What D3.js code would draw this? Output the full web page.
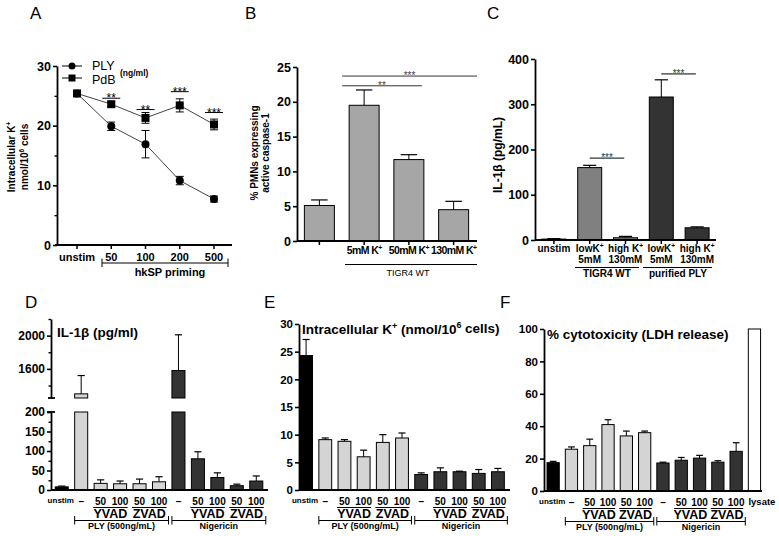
<!DOCTYPE html>
<html><head><meta charset="utf-8">
<script src="https://cdn.jsdelivr.net/npm/d3@7"></script>
<style>body{margin:0;background:#fff} text{font-family:Arial,"Liberation Sans",sans-serif}</style>
</head><body><svg id="c" width="779" height="536"></svg>
<script>
// ---------- DATA ----------
// Panel A
const doseLabels = ["unstim","50","100","200","500"];
const plyK = [25.4,19.9,16.9,10.8,7.7];
const plyKErr = [0,0.7,2.3,0.7,0.5];
const pdbK = [25.4,23.6,21.3,23.4,20.2];
const pdbKErr = [0,0.4,0.9,1.1,0.9];
const sigAAt = ["50","100","200","500"];
const sigALevel = [24.6,22.7,25.7,22.2];
const sigAStars = ["**","**","***","***"];
const yTicksA = [0,10,20,30];
// Panel B
const casp1Labels = ["","5mM K","50mM K","130mM K"];
const casp1 = [5.1,19.5,11.7,4.5];
const casp1Err = [0.8,2.2,0.7,1.2];
const yTicksB = [0,5,10,15,20,25];
const sigBFrom = [1,1], sigBTo = [4,2.9], sigBLevel = [23.7,22.3], sigBStars = ["***","**"];
// Panel C
const il1Top = ["unstim","lowK","high K","lowK","high K"];
const il1Bottom = ["","5mM","130mM","5mM","130mM"];
const il1 = [2,160,5,316,27];
const il1Err = [1,5,3,38,2];
const yTicksC = [0,100,200,300,400];
const sigCFrom = [1.0,3.0], sigCTo = [2.3,4.3], sigCLevel = [181,367];
// Panels D-F
const inhibLabels = ["unstim","–","50","100","50","100","–","50","100","50","100","lysate"];
const inhibGroups = ["YVAD","ZVAD","YVAD","ZVAD"];
const inhibGroupIdx = [[2,3],[4,5],[7,8],[9,10]];
const stimGroups = ["PLY (500ng/mL)","Nigericin"];
const stimGroupIdx = [[1,5],[6,10]];
const il1Inhib = [8,1300,17,16,16,21,1580,80,32,11,23];
const il1InhibErr = [2,220,9,7,12,13,430,18,12,4,13];
const kInhib = [24.3,9.1,8.8,6.0,8.6,9.4,2.8,3.3,3.3,3.0,3.3];
const kInhibErr = [2.9,0.3,0.3,1.2,1.4,0.9,0.3,0.7,0.1,0.7,0.6];
const ldh = [17.5,25.8,28,41,34,36,17.3,19,20.3,17.8,24.5,100];
const ldhErr = [0.8,1.4,4,3,3,1,0.5,1.7,1.7,0.9,5.3,0];
const yTicksDLow = [0,50,100,150,200], yTicksDHigh = [1600,2000];
const yTicksE = [0,5,10,15,20,25,30];
const yTicksF = [0,20,40,60,80,100];

// ---------- HELPERS ----------
const svg = d3.select("#c");
const inhibColor = i => i===0 ? "#000" : (i<=5 ? "#d4d4d4" : (i<=10 ? "#333" : "#fff"));

function txt(g,x,y,s,o={}){
  const t = g.append("text").attr("x",x).attr("y",y).text(s)
    .attr("font-size",o.size||11).attr("font-weight",o.weight||"bold")
    .attr("text-anchor",o.anchor||"middle").attr("fill",o.fill||"#000");
  if(o.ls) t.attr("letter-spacing",o.ls);
  return t;
}
function rich(g,x,y,parts,o={}){
  const t = g.append("text").attr("x",x).attr("y",y)
    .attr("font-size",o.size||11).attr("font-weight",o.weight||"bold")
    .attr("text-anchor",o.anchor||"middle").attr("fill",o.fill||"#000");
  if(o.ls) t.attr("letter-spacing",o.ls);
  if(o.rotate) t.attr("transform",`rotate(-90,${x},${y})`);
  const fs = o.size||11;
  parts.forEach(p=>{
    if(p[1]==="sup") t.append("tspan").attr("dy",-fs*0.38).attr("font-size",fs*0.65).text(p[0]);
    else t.append("tspan").attr("dy",p[2]||0).text(p[0]);
  });
  return t;
}
function yAxis(g,scale,x,ticks,fs,minor){
  const a = g.append("g").attr("transform",`translate(${x},0)`)
    .call(d3.axisLeft(scale).tickValues(ticks).tickSize(4).tickSizeOuter(0).tickPadding(2).tickFormat(d3.format("d")));
  a.selectAll("text").attr("font-size",fs).attr("font-weight","bold").attr("fill","#000");
  a.selectAll("line").attr("stroke","#000").attr("stroke-width",1.6);
  a.select(".domain").attr("stroke","#000").attr("stroke-width",1.8);
  if(minor){
    const m = g.append("g").attr("transform",`translate(${x},0)`)
      .call(d3.axisLeft(scale).tickValues(minor).tickSize(2.5).tickFormat(""));
    m.select(".domain").remove();
    m.selectAll("line").attr("stroke","#000").attr("stroke-width",1.4);
  }
  return a;
}
function xLine(g,x0,x1,y,centers){
  g.append("line").attr("x1",x0).attr("x2",x1).attr("y1",y).attr("y2",y).attr("stroke","#000").attr("stroke-width",1.8);
  centers.forEach(c=>g.append("line").attr("x1",c).attr("x2",c).attr("y1",y).attr("y2",y+4).attr("stroke","#000").attr("stroke-width",1.5));
}
function errUp(g,cx,yTop,yErr,cap){
  g.append("line").attr("x1",cx).attr("x2",cx).attr("y1",yTop).attr("y2",yErr).attr("stroke","#000").attr("stroke-width",1);
  g.append("line").attr("x1",cx-cap/2).attr("x2",cx+cap/2).attr("y1",yErr).attr("y2",yErr).attr("stroke","#000").attr("stroke-width",1.2);
}
function drawBars(g,x,y,vals,errs,colorFn){
  vals.forEach((v,i)=>{
    g.append("rect").attr("x",x(i)).attr("y",y(v)).attr("width",x.bandwidth()).attr("height",y(0)-y(v))
      .attr("fill",colorFn(i)).attr("stroke","#000").attr("stroke-width",1);
    if(errs[i]>0) errUp(g,x(i)+x.bandwidth()/2,y(v),y(v+errs[i]),x.bandwidth()*0.55);
  });
}
function bracket(g,x0,x1,y){
  g.append("line").attr("x1",x0).attr("x2",x1).attr("y1",y).attr("y2",y).attr("stroke","#000").attr("stroke-width",1);
  [x0,x1].forEach(xx=>g.append("line").attr("x1",xx).attr("x2",xx).attr("y1",y-4.5).attr("y2",y+4).attr("stroke","#000").attr("stroke-width",1));
}
function inhibXLabels(g,x,axisY,n){
  const bw = x.bandwidth(), c = i=>x(i)+bw/2;
  d3.range(n).forEach(i=>{
    const s = inhibLabels[i];
    if(i===0) txt(g,c(i)-1,axisY+12.5,s,{size:8});
    else if(s==="–") txt(g,c(i),axisY+14.5,s,{size:10});
    else if(s==="lysate") txt(g,c(i)-6,axisY+14,s,{size:9.5,anchor:"start"});
    else txt(g,c(i),axisY+15,s,{size:10});
  });
  inhibGroups.forEach((nm,k)=>{
    const [a,b] = inhibGroupIdx[k];
    const x0 = x(a)-1, x1 = x(b)+bw+1;
    g.append("line").attr("x1",x0).attr("x2",x1).attr("y1",axisY+17.5).attr("y2",axisY+17.5).attr("stroke","#000").attr("stroke-width",1);
    txt(g,(x0+x1)/2,axisY+27.5,nm,{size:12.5});
  });
  stimGroups.forEach((nm,k)=>{
    const [a,b] = stimGroupIdx[k];
    const x0 = x(a), x1 = x(b)+bw+3;
    bracket(g,x0,x1,axisY+30.5);
    txt(g,(x0+x1)/2,axisY+38.5,nm,{size:9});
  });
}
function panelLetter(x,y,s){ txt(svg,x,y,s,{size:17,weight:"normal",anchor:"start"}); }

// ---------- PANEL A ----------
{
  const g = svg.append("g");
  const x = d3.scalePoint().domain(doseLabels).range([77,214]);
  const y = d3.scaleLinear().domain([0,30]).range([245,66]);
  yAxis(g,y,57,yTicksA,12.5,[5,15,25]);
  xLine(g,55,232,245,doseLabels.map(d=>x(d)));
  doseLabels.forEach(d=>txt(g,x(d),261,d,{size:11}));
  bracket(g,102,228,263);
  txt(g,170,276,"hkSP priming",{size:11});
  const line = d3.line().x((d,i)=>x(doseLabels[i])).y(d=>y(d));
  g.append("path").attr("d",line(plyK)).attr("fill","none").attr("stroke","#444").attr("stroke-width",1);
  g.append("path").attr("d",line(pdbK)).attr("fill","none").attr("stroke","#444").attr("stroke-width",1);
  const eb = (vals,errs)=>vals.forEach((v,i)=>{ if(errs[i]>0){
    const cx = x(doseLabels[i]);
    g.append("line").attr("x1",cx).attr("x2",cx).attr("y1",y(v-errs[i])).attr("y2",y(v+errs[i])).attr("stroke","#000");
    [v-errs[i],v+errs[i]].forEach(e=>g.append("line").attr("x1",cx-4).attr("x2",cx+4).attr("y1",y(e)).attr("y2",y(e)).attr("stroke","#000"));
  }});
  eb(plyK,plyKErr); eb(pdbK,pdbKErr);
  plyK.forEach((v,i)=>g.append("circle").attr("cx",x(doseLabels[i])).attr("cy",y(v)).attr("r",4).attr("fill","#000"));
  pdbK.forEach((v,i)=>g.append("rect").attr("x",x(doseLabels[i])-4).attr("y",y(v)-4).attr("width",8).attr("height",8).attr("fill","#000"));
  sigAAt.forEach((d,k)=>{
    const cx = x(d), ly = y(sigALevel[k]);
    g.append("line").attr("x1",cx-9).attr("x2",cx+9).attr("y1",ly).attr("y2",ly).attr("stroke","#000").attr("stroke-width",1);
    txt(g,cx,ly+4,sigAStars[k],{size:12,weight:"normal"});
  });
  // legend
  g.append("line").attr("x1",62).attr("x2",82).attr("y1",66).attr("y2",66).attr("stroke","#000");
  g.append("circle").attr("cx",72).attr("cy",66).attr("r",3.5).attr("fill","#000");
  g.append("line").attr("x1",62).attr("x2",82).attr("y1",78).attr("y2",78).attr("stroke","#000");
  g.append("rect").attr("x",68.5).attr("y",74.5).attr("width",7).attr("height",7).attr("fill","#000");
  txt(g,92,69.5,"PLY",{size:12.5,weight:"normal",anchor:"start"});
  txt(g,120,76,"(ng/ml)",{size:8.5,anchor:"start"});
  txt(g,92,83.5,"PdB",{size:12.5,weight:"normal",anchor:"start"});
  rich(g,15,157,[["Intracellular K",""],["+","sup"]],{size:10,rotate:true});
  rich(g,28,157,[["nmol/10",""],["6","sup"],[" cells","",3.8]],{size:10,rotate:true});
}
// ---------- PANEL B ----------
{
  const g = svg.append("g");
  const x = d3.scaleBand().domain(d3.range(4)).range([297,476]).paddingInner(0.33).paddingOuter(0.165);
  const y = d3.scaleLinear().domain([0,25]).range([241,67]);
  drawBars(g,x,y,casp1,casp1Err,()=>"#a6a6a6");
  yAxis(g,y,297,yTicksB,12.5);
  xLine(g,297,477,241,d3.range(4).map(i=>x(i)+x.bandwidth()/2));
  casp1Labels.forEach((s,i)=>{ if(s) rich(g,x(i)+x.bandwidth()/2,254,[[s,""],["+","sup"]],{size:10.5,ls:-0.6}); });
  g.append("line").attr("x1",345).attr("x2",477).attr("y1",264.5).attr("y2",264.5).attr("stroke","#000");
  txt(g,408,276,"TIGR4 WT",{size:9,weight:"normal"});
  sigBLevel.forEach((lv,k)=>{
    const x0 = x(sigBFrom[k])-7, x1 = sigBTo[k]>=4 ? 477 : x(2)+x.bandwidth()-2;
    g.append("line").attr("x1",x0).attr("x2",x1).attr("y1",y(lv)).attr("y2",y(lv)).attr("stroke","#333");
    txt(g,(x0+x1)/2,y(lv)+3,sigBStars[k],{size:10,weight:"normal",fill:"#444"});
  });
  rich(g,258,153,[["% PMNs expressing",""]],{size:10,rotate:true});
  rich(g,269,153,[["active caspase-1",""]],{size:10,rotate:true});
}
// ---------- PANEL C ----------
{
  const g = svg.append("g");
  const x = d3.scaleBand().domain(d3.range(5)).range([536,715]).paddingInner(0.33).paddingOuter(0.165);
  const y = d3.scaleLinear().domain([0,400]).range([240,59]);
  const col = i=> i===0?"#000":(i<=2?"#808080":"#333");
  drawBars(g,x,y,il1,il1Err,col);
  yAxis(g,y,535,yTicksC,12.5);
  const c = i=>x(i)+x.bandwidth()/2;
  xLine(g,535,716,240,d3.range(5).map(c));
  il1Top.forEach((s,i)=>{
    if(i===0) txt(g,c(i),252,s,{size:10});
    else rich(g,c(i),252,[[s,""],["+","sup"]],{size:10});
    if(il1Bottom[i]) txt(g,c(i),263,il1Bottom[i],{size:10});
  });
  g.append("line").attr("x1",575).attr("x2",639).attr("y1",267.5).attr("y2",267.5).attr("stroke","#000");
  g.append("line").attr("x1",643).attr("x2",712).attr("y1",267.5).attr("y2",267.5).attr("stroke","#000");
  txt(g,607,277,"TIGR4 WT",{size:10});
  txt(g,678,277,"purified PLY",{size:10});
  sigCLevel.forEach((lv,k)=>{
    const x0 = x(0)+x.step()*sigCFrom[k]+x.bandwidth()/2, x1 = x(0)+x.step()*sigCTo[k];
    g.append("line").attr("x1",x0).attr("x2",x1).attr("y1",y(lv)).attr("y2",y(lv)).attr("stroke","#000");
    txt(g,(x0+x1)/2,y(lv)+3,"***",{size:10,weight:"normal",fill:"#333"});
  });
  rich(g,502,155,[["IL-1β (pg/mL)",""]],{size:12,rotate:true});
}
// ---------- PANEL D ----------
{
  const g = svg.append("g");
  const n = 11;
  const x = d3.scaleBand().domain(d3.range(n)).range([52,266]).paddingInner(0.33).paddingOuter(0.165);
  const yL = d3.scaleLinear().domain([0,200]).range([490,412]);
  const yH = d3.scaleLinear().domain([1250,2200]).range([398,319]);
  const bw = x.bandwidth();
  il1Inhib.forEach((v,i)=>{
    const cx = x(i)+bw/2;
    const top = Math.min(v,200);
    g.append("rect").attr("x",x(i)).attr("y",yL(top)).attr("width",bw).attr("height",yL(0)-yL(top))
      .attr("fill",inhibColor(i)).attr("stroke","#000").attr("stroke-width",1);
    if(v>200){
      g.append("rect").attr("x",x(i)).attr("y",yH(v)).attr("width",bw).attr("height",yH(1250)-yH(v))
        .attr("fill",inhibColor(i)).attr("stroke","#000").attr("stroke-width",1);
      errUp(g,cx,yH(v),yH(v+il1InhibErr[i]),bw*0.55);
    } else errUp(g,cx,yL(v),yL(v+il1InhibErr[i]),bw*0.55);
  });
  yAxis(g,yL,51,yTicksDLow,12,[25,75,125,175]);
  yAxis(g,yH,51,yTicksDHigh,12,[1400,1800,2200]);
  g.append("line").attr("x1",47).attr("x2",55).attr("y1",yL(200)).attr("y2",yL(200)).attr("stroke","#000").attr("stroke-width",1.8);
  g.append("line").attr("x1",48).attr("x2",55).attr("y1",398).attr("y2",398).attr("stroke","#000").attr("stroke-width",1.8);
  xLine(g,51,268,490,[]);
  inhibXLabels(g,x,490,n);
  txt(g,57,337,"IL-1β (pg/ml)",{size:13.5,anchor:"start"});
}
// ---------- PANEL E ----------
{
  const g = svg.append("g");
  const n = 11;
  const x = d3.scaleBand().domain(d3.range(n)).range([296.5,507.5]).paddingInner(0.33).paddingOuter(0.165);
  const y = d3.scaleLinear().domain([0,30]).range([490,324]);
  drawBars(g,x,y,kInhib,kInhibErr,inhibColor);
  yAxis(g,y,299,yTicksE,11.5);
  xLine(g,299,510,490,[]);
  inhibXLabels(g,x,490,n);
  rich(g,302,334,[["Intracellular K",""],["+","sup"],[" (nmol/10","",4.7],["6","sup"],[" cells)","",4.7]],{size:13.5,anchor:"start"});
}
// ---------- PANEL F ----------
{
  const g = svg.append("g");
  const n = 12;
  const x = d3.scaleBand().domain(d3.range(n)).range([544,763.6]).paddingInner(0.33).paddingOuter(0.165);
  const y = d3.scaleLinear().domain([0,100]).range([491,329]);
  drawBars(g,x,y,ldh,ldhErr,inhibColor);
  yAxis(g,y,544,yTicksF,11.5);
  xLine(g,544,762,491,[]);
  inhibXLabels(g,x,491,n);
  txt(g,547,339,"% cytotoxicity (LDH release)",{size:13.5,anchor:"start"});
}
panelLetter(30,19,"A");
panelLetter(245,19,"B");
panelLetter(487,19,"C");
panelLetter(25,308,"D");
panelLetter(264,308,"E");
panelLetter(500,308,"F");
</script></body></html>
